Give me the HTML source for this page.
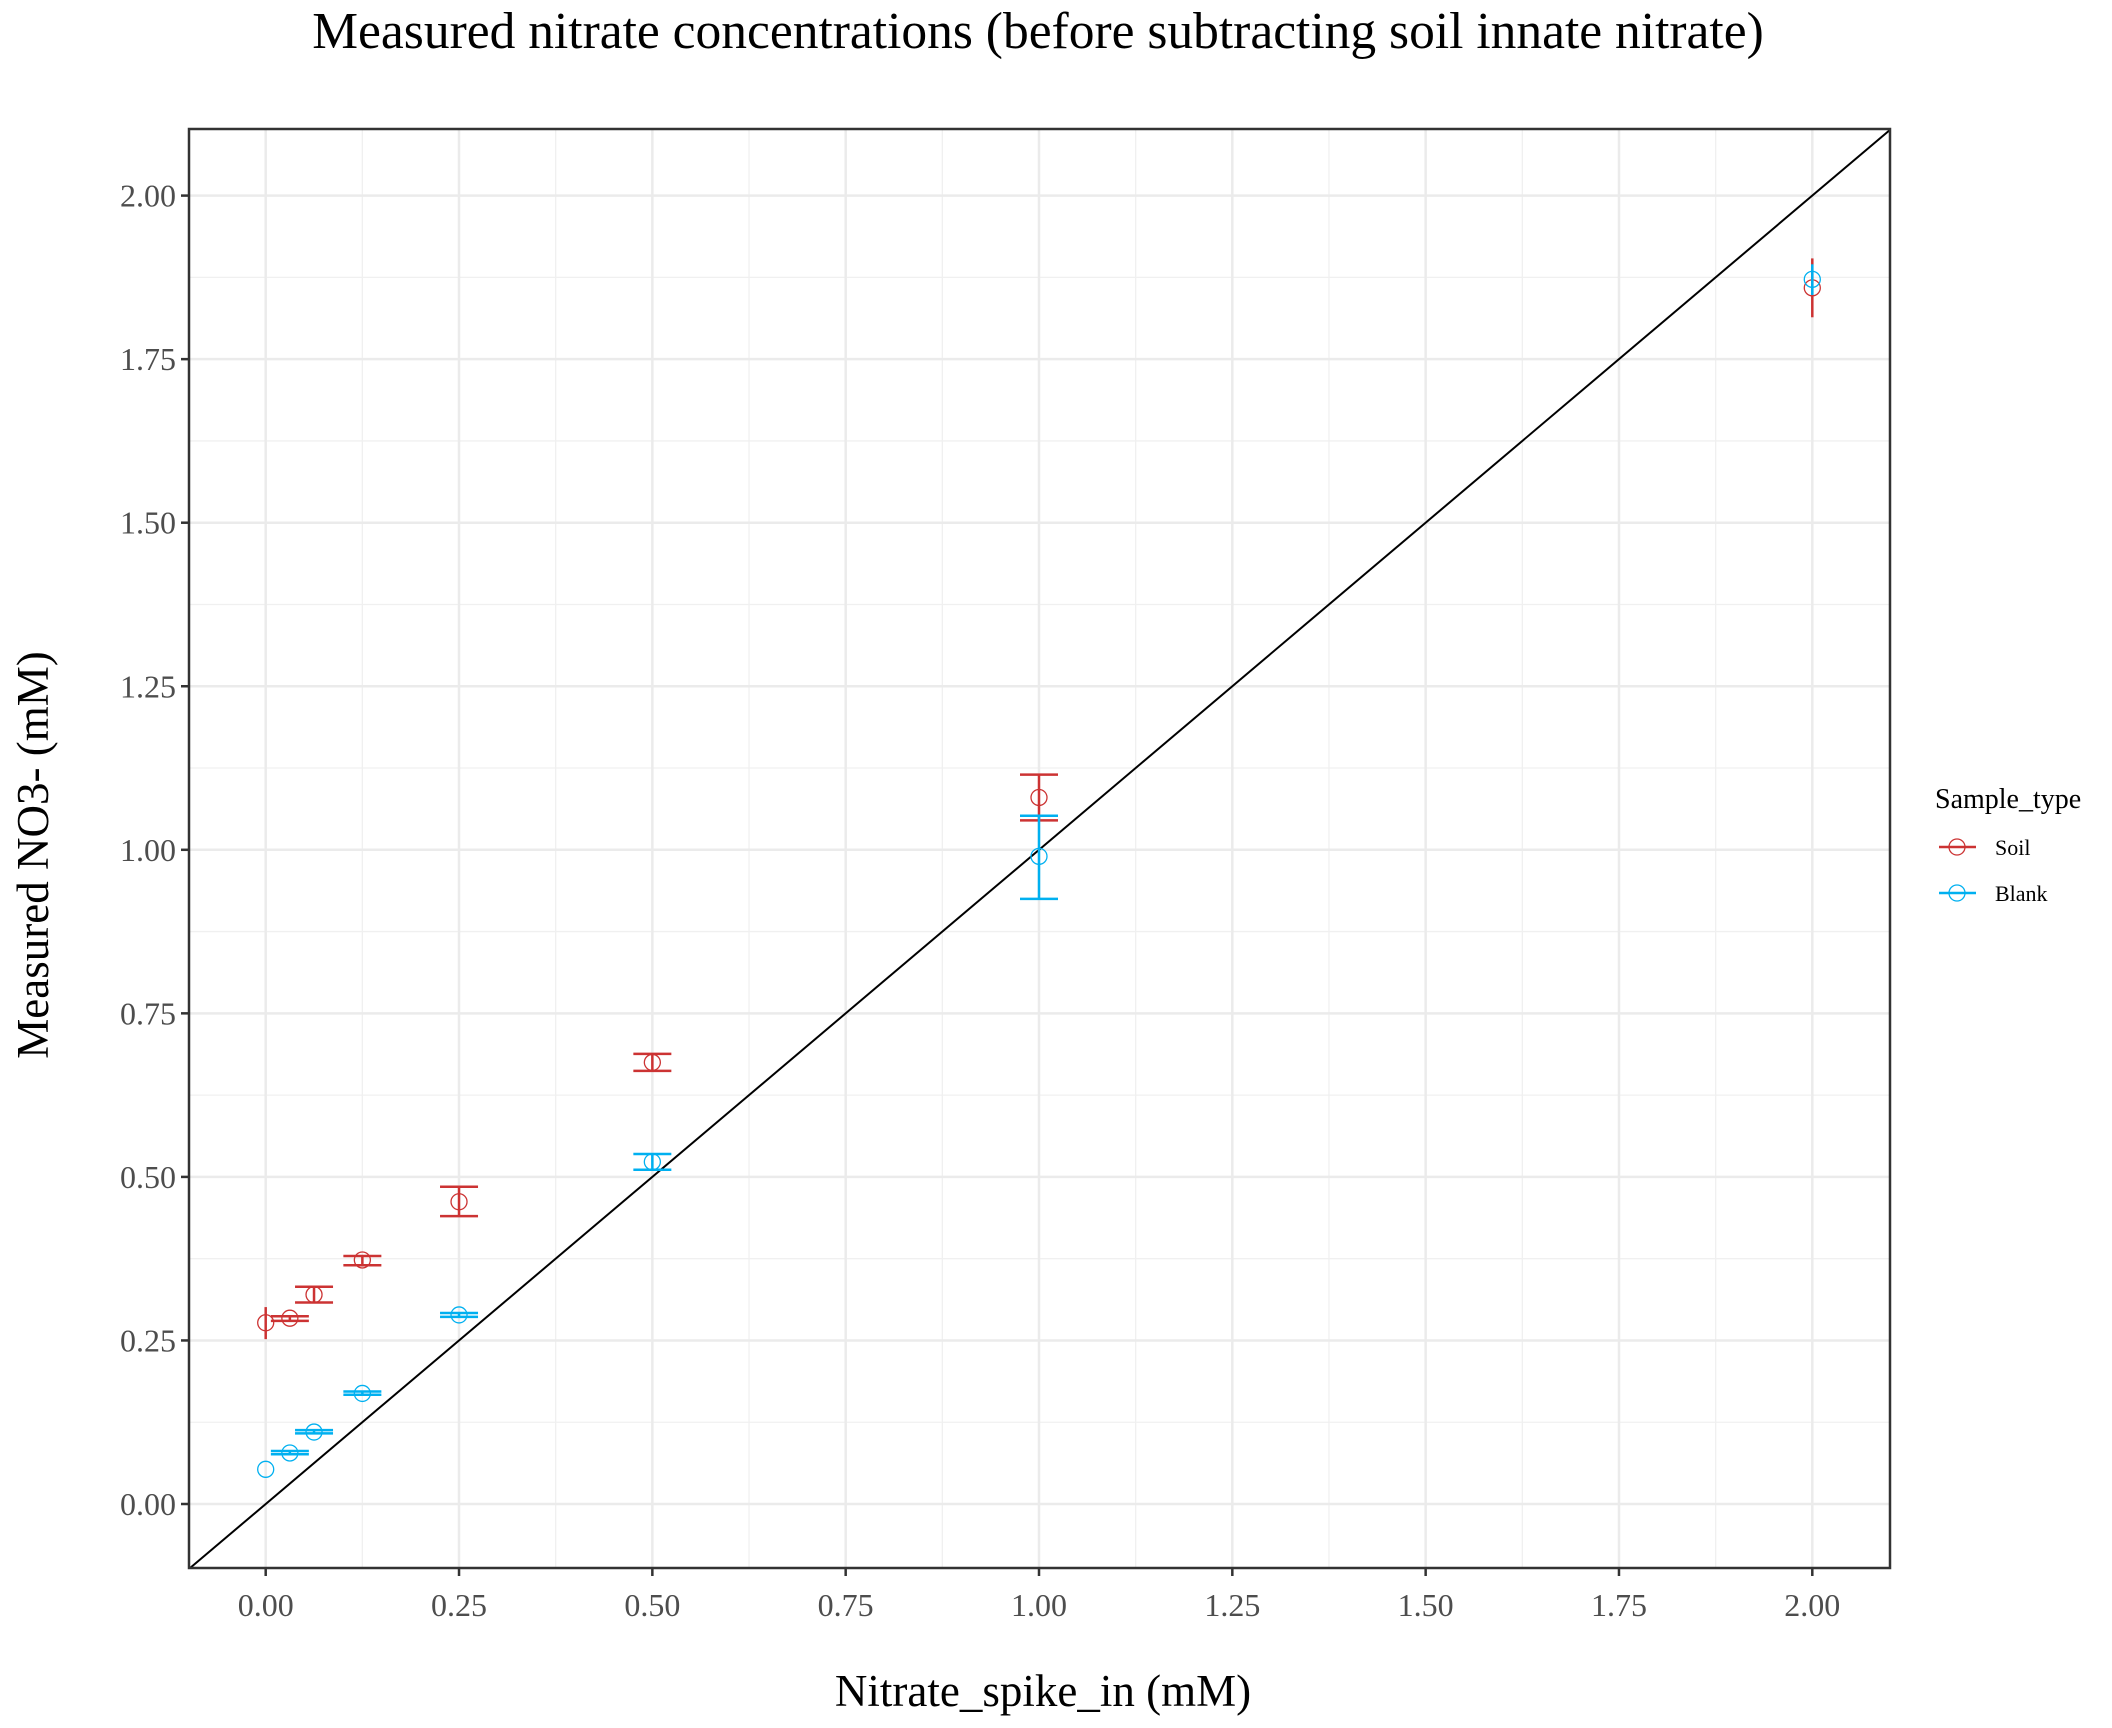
<!DOCTYPE html>
<html><head><meta charset="utf-8"><style>
html,body{margin:0;padding:0;background:#fff}
svg{display:block;font-family:"Liberation Serif",serif}
</style></head><body>
<svg id="chart" width="2112" height="1728" viewBox="0 0 2112 1728" xmlns="http://www.w3.org/2000/svg">
<text x="1038" y="48" font-size="51.5" text-anchor="middle" fill="#000">Measured nitrate concentrations (before subtracting soil innate nitrate)</text>
<text x="1043" y="1706" font-size="45" text-anchor="middle" fill="#000">Nitrate_spike_in (mM)</text>
<text transform="translate(48,855) rotate(-90)" font-size="45" text-anchor="middle" fill="#000">Measured NO3- (mM)</text>
<g id="grid"></g><g id="marks"></g><g id="axes"></g>
<g>
<text x="1935" y="808" font-size="28">Sample_type</text>
<g>
<line x1="1939" y1="847" x2="1976" y2="847" stroke="#CC3333" stroke-width="2.5"/>
<circle cx="1957" cy="847" r="8" fill="none" stroke="#CC3333" stroke-width="1.3"/>
<text x="1995" y="855" font-size="22">Soil</text></g>
<g>
<line x1="1939" y1="893" x2="1976" y2="893" stroke="#00B0F0" stroke-width="2.5"/>
<circle cx="1957" cy="893" r="8" fill="none" stroke="#00B0F0" stroke-width="1.3"/>
<text x="1995" y="901" font-size="22">Blank</text></g>
</g>
</svg>
<script>
const xVals=[0,0.03125,0.0625,0.125,0.25,0.5,1,2];
const soilY=[0.277,0.284,0.320,0.373,0.462,0.675,1.080,1.859];
const soilHi=[0.301,0.287,0.332,0.379,0.485,0.688,1.115,1.904];
const soilLo=[0.252,0.280,0.308,0.365,0.440,0.662,1.045,1.814];
const soilCaps=[false,true,true,true,true,true,true,false];
const blankY=[0.053,0.078,0.110,0.169,0.289,0.523,0.990,1.872];
const blankHi=[null,0.081,0.113,0.172,0.292,0.535,1.052,1.895];
const blankLo=[null,0.076,0.108,0.167,0.286,0.511,0.925,1.848];
const blankCaps=[false,true,true,true,true,true,true,false];
const tickVals=[0,0.25,0.5,0.75,1,1.25,1.5,1.75,2];
const tickLabels=["0.00","0.25","0.50","0.75","1.00","1.25","1.50","1.75","2.00"];

const NS="http://www.w3.org/2000/svg";
const L=189,R=1890,T=129,B=1568;
const X=v=>265.7+v*773.3;
const Y=v=>1504-v*654.2;
const xMin=(L-265.7)/773.3,xMax=(R-265.7)/773.3,yMin=(1504-B)/654.2,yMax=(1504-T)/654.2;
function mk(tag,attrs,parent){const e=document.createElementNS(NS,tag);for(const k in attrs)e.setAttribute(k,attrs[k]);parent.appendChild(e);return e;}
const grid=document.getElementById('grid'),marks=document.getElementById('marks'),axes=document.getElementById('axes');
for(let i=0;i<tickVals.length-1;i++){
 const m=(tickVals[i]+tickVals[i+1])/2;
 let g=mk('line',{x1:X(m),x2:X(m),y1:T,y2:B,stroke:'#f0f0f0','stroke-width':1.3},grid);
 
 g=mk('line',{x1:L,x2:R,y1:Y(m),y2:Y(m),stroke:'#f0f0f0','stroke-width':1.3},grid);
 
}
tickVals.forEach((v,i)=>{
 let g=mk('line',{x1:X(v),x2:X(v),y1:T,y2:B,stroke:'#ebebeb','stroke-width':2.5},grid);
 
 g=mk('line',{x1:L,x2:R,y1:Y(v),y2:Y(v),stroke:'#ebebeb','stroke-width':2.5},grid);
 
 let t=mk('line',{x1:X(v),x2:X(v),y1:B,y2:B+8,stroke:'#333','stroke-width':2.5},axes);
 
 t=mk('line',{x1:L-8,x2:L,y1:Y(v),y2:Y(v),stroke:'#333','stroke-width':2.5},axes);
 
 let tx=mk('text',{x:X(v),y:1616,'font-size':32,'text-anchor':'middle',fill:'#4d4d4d'},axes);tx.textContent=tickLabels[i];
 
 tx=mk('text',{x:176,y:Y(v)+11,'font-size':32,'text-anchor':'end',fill:'#4d4d4d'},axes);tx.textContent=tickLabels[i];
 
});
let ref=mk('line',{x1:X(Math.max(xMin,yMin)),y1:Y(Math.max(xMin,yMin)),x2:X(Math.min(xMax,yMax)),y2:Y(Math.min(xMax,yMax)),stroke:'#000','stroke-width':2},marks);

function series(ys,hi,lo,caps,color,name){
 xVals.forEach((xv,i)=>{
  const cx=X(xv);
  if(hi[i]!==null){
   let e=mk('line',{x1:cx,x2:cx,y1:Y(hi[i]),y2:Y(lo[i]),stroke:color,'stroke-width':2.5},marks);
   
   if(caps[i]){[hi[i],lo[i]].forEach(v=>{
    let c=mk('line',{x1:cx-19,x2:cx+19,y1:Y(v),y2:Y(v),stroke:color,'stroke-width':2.5},marks);
    });}
  }
  let p=mk('circle',{cx:cx,cy:Y(ys[i]),r:8,fill:'none',stroke:color,'stroke-width':1.3},marks);
  
 });
}
series(soilY,soilHi,soilLo,soilCaps,'#CC3333','soil');
series(blankY,blankHi,blankLo,blankCaps,'#00B0F0','blank');
let fr=mk('rect',{x:L,y:T,width:R-L,height:B-T,fill:'none',stroke:'#333','stroke-width':2.5},axes);

</script>
</body></html>
